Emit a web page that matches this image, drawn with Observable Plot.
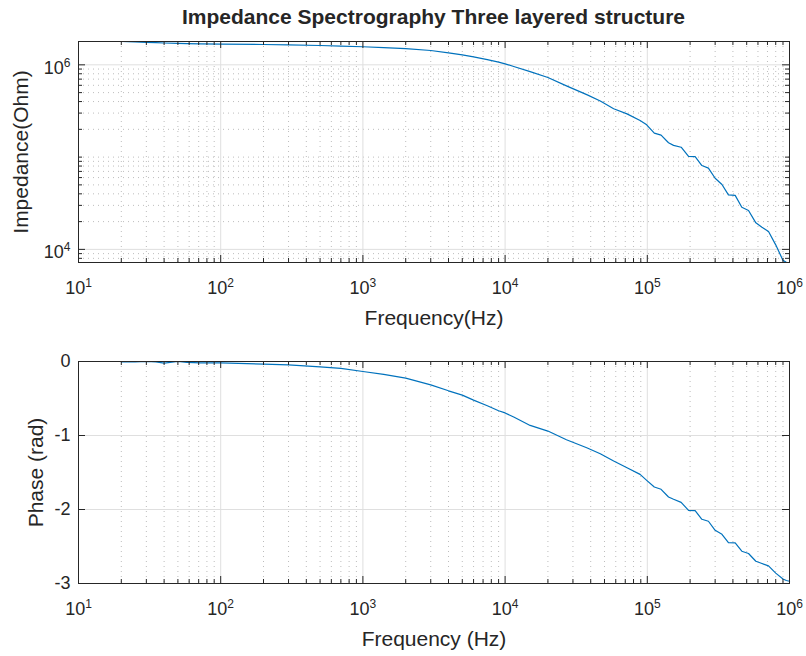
<!DOCTYPE html>
<html><head><meta charset="utf-8">
<script src="https://cdn.jsdelivr.net/npm/d3@7"></script>
<script src="https://cdn.jsdelivr.net/npm/@observablehq/plot@0.6"></script>
<style>
html,body{margin:0;padding:0;background:#fff;}
#wrap{width:806px;height:656px;position:relative;font-family:"Liberation Sans",Arial,sans-serif;color:#262626;overflow:hidden;}
#title{position:absolute;z-index:2;left:78px;width:711px;top:0;height:34px;line-height:34px;text-align:center;font-weight:bold;font-size:21px;white-space:nowrap;}
#p1{position:absolute;z-index:1;left:0;top:0;}
#p2{position:absolute;z-index:1;left:0;top:330px;}
svg{display:block;}
</style></head><body>
<div id="wrap"><div id="p1"></div><div id="p2"></div><div id="title"></div></div>
<script>
// ---- data ----
const freq = [20, 25, 30, 35, 40, 50, 58, 72, 100, 200, 300, 500, 700, 1000, 1400, 2000, 3000, 4000, 5000, 6000, 7500, 9000, 10000, 11500, 15000, 20000, 27000, 37500, 46700, 58000, 72000, 89000, 99000, 112000, 125000, 141000, 153000, 173000, 195000, 217000, 242000, 269000, 300000, 335000, 372000, 415000, 462000, 515000, 580000, 640000, 712000, 800000, 900000, 950000, 1000000];
const impedance = [1.79e6, 1.77e6, 1.755e6, 1.74e6, 1.725e6, 1.71e6, 1.70e6, 1.69e6, 1.68e6, 1.66e6, 1.645e6, 1.62e6, 1.595e6, 1.57e6, 1.54e6, 1.50e6, 1.43e6, 1.35e6, 1.28e6, 1.22e6, 1.14e6, 1.07e6, 1.026e6, 9.6e5, 8.45e5, 7.3e5, 5.92e5, 4.75e5, 4.06e5, 3.34e5, 2.94e5, 2.49e5, 2.24e5, 1.82e5, 1.73e5, 1.43e5, 1.34e5, 1.28e5, 1.02e5, 1.01e5, 8.1e4, 7.6e4, 5.9e4, 5.05e4, 3.9e4, 3.85e4, 2.86e4, 2.64e4, 1.94e4, 1.74e4, 1.56e4, 1.12e4, 7.6e3, 7.25e3, 7.21e3];
const phase = [-0.005, -0.004, 0, -0.004, -0.022, 0, -0.013, -0.018, -0.018, -0.036, -0.045, -0.072, -0.094, -0.135, -0.175, -0.225, -0.315, -0.396, -0.454, -0.522, -0.598, -0.665, -0.695, -0.751, -0.864, -0.940, -1.057, -1.165, -1.246, -1.345, -1.435, -1.525, -1.606, -1.696, -1.727, -1.831, -1.862, -1.903, -2.011, -2.015, -2.132, -2.159, -2.281, -2.335, -2.447, -2.452, -2.564, -2.595, -2.699, -2.730, -2.762, -2.86, -2.94, -2.96, -2.97];

// ---- tick values / labels ----
const xTickLabels = [10, 100, 1e3, 1e4, 1e5, 1e6];
const xMajorInner = [100, 1e3, 1e4, 1e5];
const xMinor = [];
for (let k = 1; k <= 5; k++) for (let m = 2; m <= 9; m++) xMinor.push(m * Math.pow(10, k));
const zTickLabels = [1e4, 1e6];
const zMinor = [8e3, 9e3, 2e4, 3e4, 4e4, 5e4, 6e4, 7e4, 8e4, 9e4, 1e5, 2e5, 3e5, 4e5, 5e5, 6e5, 7e5, 8e5, 9e5];
const phaseTickLabels = [0, -1, -2, -3];
const phaseMajorInner = [-1, -2];

const titleText = "Impedance Spectrography Three layered structure";
const xLabel1 = "Frequency(Hz)";
const yLabel1 = "Impedance(Ohm)";
const xLabel2 = "Frequency (Hz)";
const yLabel2 = "Phase (rad)";

const rowsZ = freq.map((f, i) => ({f, z: impedance[i]}));
const rowsP = freq.map((f, i) => ({f, p: phase[i]}));

// ---- style ----
const W = 806, ml = 78, mr = 17, fw = W - ml - mr;
const ink = "#262626", lineC = "#0072BD", majorC = "#dfdfdf", minorC = "#bdbdbd";
const majT = 7, minT = 4;
const fmtPow = d => `10^${Math.round(Math.log10(d))}`;
const font = '"Liberation Sans", Arial, sans-serif';

function edgeTicksX(vals, len, fh) {
  return [
    Plot.tickX(vals, {stroke: ink, strokeWidth: 1, insetTop: fh - len}),
    Plot.tickX(vals, {stroke: ink, strokeWidth: 1, insetBottom: fh - len})
  ];
}
function edgeTicksY(vals, len) {
  return [
    Plot.tickY(vals, {stroke: ink, strokeWidth: 1, insetRight: fw - len}),
    Plot.tickY(vals, {stroke: ink, strokeWidth: 1, insetLeft: fw - len})
  ];
}
function supify(svg) {
  d3.select(svg).selectAll("text").each(function() {
    const m = /^10\^(\d+)$/.exec(this.textContent);
    if (!m) return;
    const el = d3.select(this);
    el.text(null);
    el.append("tspan").text("10");
    el.append("tspan").attr("dy", -7).attr("font-size", 12).text(m[1]);
  });
}

// ---- top panel ----
const H1 = 330, mt1 = 41, mb1 = 68, fh1 = H1 - mt1 - mb1;
const p1 = Plot.plot({
  width: W, height: H1, marginTop: mt1, marginBottom: mb1, marginLeft: ml, marginRight: mr,
  style: {fontFamily: font, fontSize: "18px", color: ink, background: "#fff"},
  x: {type: "log", domain: [10, 1e6], label: null},
  y: {type: "log", domain: d3.extent(impedance), label: null},
  marks: [
    Plot.gridX(xMinor, {stroke: minorC, strokeOpacity: 1, strokeWidth: 1, strokeDasharray: "1,4"}),
    Plot.gridY(zMinor, {stroke: minorC, strokeOpacity: 1, strokeWidth: 1, strokeDasharray: "1,4"}),
    Plot.gridX(xMajorInner, {stroke: majorC, strokeOpacity: 1, strokeWidth: 1}),
    Plot.gridY(zTickLabels, {stroke: majorC, strokeOpacity: 1, strokeWidth: 1}),
    Plot.line(rowsZ, {x: "f", y: "z", stroke: lineC, strokeWidth: 1.2}),
    Plot.frame({stroke: ink, strokeWidth: 1}),
    ...edgeTicksX(xMajorInner, majT, fh1),
    ...edgeTicksX(xMinor, minT, fh1),
    ...edgeTicksY(zTickLabels, majT),
    ...edgeTicksY(zMinor, minT),
    Plot.axisX({ticks: xTickLabels, tickFormat: fmtPow, tickSize: 0, tickPadding: 19, label: null}),
    Plot.axisY({ticks: zTickLabels, tickFormat: fmtPow, tickSize: 0, tickPadding: 8, dy: 3, label: null}),
    Plot.text([xLabel1], {text: d => d, frameAnchor: "bottom", textAnchor: "middle", dy: 48, lineAnchor: "top", fontSize: 21, fill: ink}),
    Plot.text([yLabel1], {text: d => d, frameAnchor: "left", textAnchor: "middle", dx: -65, rotate: -90, lineAnchor: "top", fontSize: 21, fill: ink})
  ]
});
supify(p1);
document.getElementById("p1").appendChild(p1);

// ---- bottom panel ----
const H2 = 326, mt2 = 31, mb2 = 73, fh2 = H2 - mt2 - mb2;
const p2 = Plot.plot({
  width: W, height: H2, marginTop: mt2, marginBottom: mb2, marginLeft: ml, marginRight: mr,
  style: {fontFamily: font, fontSize: "18px", color: ink, background: "#fff"},
  x: {type: "log", domain: [10, 1e6], label: null},
  y: {domain: [-3, 0], label: null},
  marks: [
    Plot.gridX(xMinor, {stroke: minorC, strokeOpacity: 1, strokeWidth: 1, strokeDasharray: "1,4"}),
    Plot.gridX(xMajorInner, {stroke: majorC, strokeOpacity: 1, strokeWidth: 1}),
    Plot.gridY(phaseMajorInner, {stroke: majorC, strokeOpacity: 1, strokeWidth: 1}),
    Plot.line(rowsP, {x: "f", y: "p", stroke: lineC, strokeWidth: 1.2}),
    Plot.frame({stroke: ink, strokeWidth: 1}),
    ...edgeTicksX(xMajorInner, majT, fh2),
    ...edgeTicksX(xMinor, minT, fh2),
    ...edgeTicksY(phaseMajorInner, majT),
    Plot.axisX({ticks: xTickLabels, tickFormat: fmtPow, tickSize: 0, tickPadding: 19, label: null}),
    Plot.axisY({ticks: phaseTickLabels, tickFormat: d => String(d), tickSize: 0, tickPadding: 8, label: null}),
    Plot.text([xLabel2], {text: d => d, frameAnchor: "bottom", textAnchor: "middle", dy: 48, lineAnchor: "top", fontSize: 21, fill: ink}),
    Plot.text([yLabel2], {text: d => d, frameAnchor: "left", textAnchor: "middle", dx: -50, rotate: -90, lineAnchor: "top", fontSize: 21, fill: ink})
  ]
});
supify(p2);
document.getElementById("p2").appendChild(p2);
document.getElementById("title").textContent = titleText;
</script>
</body></html>
